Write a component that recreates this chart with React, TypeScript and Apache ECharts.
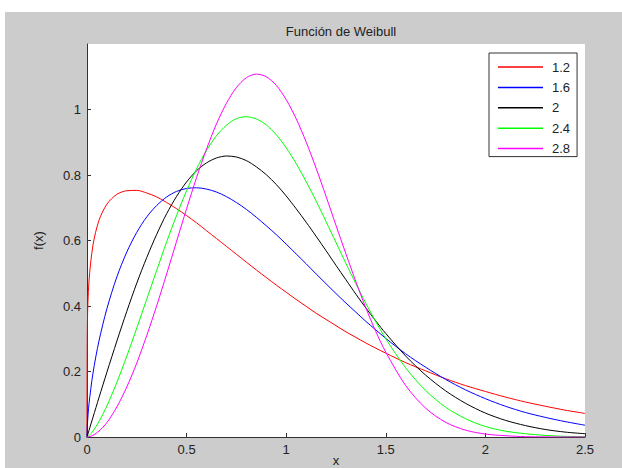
import React, { useEffect, useRef } from "react";
import * as echarts from "echarts";

const xs = [
  0, 0.002, 0.01, 0.03, 0.06, 0.1, 0.15,
  0.2, 0.25, 0.3, 0.35, 0.4, 0.45, 0.5, 0.55, 0.6, 0.65, 0.7, 0.75, 0.8, 0.85, 0.9, 0.95,
  1.0, 1.05, 1.1, 1.15, 1.2, 1.25, 1.3, 1.35, 1.4, 1.45, 1.5,
  1.6, 1.7, 1.8, 1.9, 2.0, 2.1, 2.2, 2.3, 2.4, 2.5,
];

const shapeLabels = ["1.2", "1.6", "2", "2.4", "2.8"];

const k12 = [
  0, 0.346, 0.476, 0.586, 0.661, 0.711, 0.741,
  0.752, 0.753, 0.745, 0.733, 0.716, 0.697, 0.676, 0.654, 0.630, 0.606, 0.582, 0.558, 0.534, 0.510, 0.487, 0.464,
  0.442, 0.420, 0.399, 0.378, 0.359, 0.340, 0.321, 0.304, 0.287, 0.271, 0.256,
  0.227, 0.202, 0.178, 0.157, 0.139, 0.122, 0.107, 0.094, 0.082, 0.072,
];
const k16 = [
  0, 0.038, 0.101, 0.195, 0.293, 0.392, 0.489,
  0.565, 0.625, 0.672, 0.707, 0.733, 0.750, 0.759, 0.761, 0.757, 0.748, 0.734, 0.716, 0.695, 0.671, 0.645, 0.618,
  0.589, 0.559, 0.529, 0.498, 0.468, 0.438, 0.409, 0.381, 0.353, 0.327, 0.301,
  0.254, 0.213, 0.176, 0.144, 0.117, 0.094, 0.075, 0.060, 0.047, 0.036,
];
const k20 = [
  0, 0.004, 0.020, 0.060, 0.120, 0.198, 0.293,
  0.384, 0.470, 0.548, 0.619, 0.682, 0.735, 0.779, 0.813, 0.837, 0.852, 0.858, 0.855, 0.844, 0.825, 0.801, 0.771,
  0.736, 0.697, 0.656, 0.613, 0.569, 0.524, 0.480, 0.436, 0.394, 0.354, 0.316,
  0.247, 0.189, 0.141, 0.103, 0.073, 0.051, 0.035, 0.023, 0.015, 0.010,
];
const k24 = [
  0, 0.0004, 0.004, 0.018, 0.047, 0.095, 0.167,
  0.247, 0.333, 0.421, 0.509, 0.596, 0.677, 0.752, 0.819, 0.875, 0.920, 0.952, 0.972, 0.978, 0.971, 0.953, 0.923,
  0.883, 0.835, 0.780, 0.721, 0.658, 0.594, 0.530, 0.468, 0.408, 0.352, 0.300,
  0.211, 0.142, 0.091, 0.056, 0.032, 0.018, 0.010, 0.005, 0.002, 0.001,
];
const k28 = [
  0, 0, 0.0007, 0.005, 0.018, 0.044, 0.092,
  0.153, 0.226, 0.310, 0.401, 0.498, 0.598, 0.697, 0.792, 0.879, 0.956, 1.019, 1.067, 1.097, 1.108, 1.100, 1.074,
  1.030, 0.972, 0.901, 0.821, 0.735, 0.646, 0.559, 0.474, 0.394, 0.322, 0.259,
  0.157, 0.088, 0.045, 0.021, 0.009, 0.004, 0.001, 0.0004, 0.0001, 0,
];

const seriesValues = [k12, k16, k20, k24, k28];
const colors = ["#ff0000", "#0000ff", "#000000", "#00ff00", "#ff00ff"];

const xTicks = [0, 0.5, 1, 1.5, 2, 2.5];
const yTicks = [0, 0.2, 0.4, 0.6, 0.8, 1];

const FONT = "Liberation Sans, Arial, sans-serif";

export default function App() {
  const ref = useRef<HTMLDivElement>(null);
  useEffect(() => {
    if (!ref.current) return;
    const chart = echarts.init(ref.current, undefined, { renderer: "svg" });
    const axisText = { color: "#222", fontFamily: FONT, fontSize: 13 };
    chart.setOption({
      animation: false,
      backgroundColor: "#ffffff",
      graphic: [
        {
          type: "rect",
          z: -10,
          silent: true,
          shape: { x: 5, y: 12, width: 617, height: 456 },
          style: { fill: "#cccccc" },
        },
      ],
      title: {
        text: "Función de Weibull",
        left: 336,
        textAlign: "center",
        top: 20,
        textStyle: { color: "#222", fontFamily: FONT, fontSize: 13, fontWeight: "normal" },
      },
      legend: {
        show: true,
        orient: "vertical",
        left: 489,
        top: 53,
        icon: "rect",
        itemWidth: 45,
        itemHeight: 1.5,
        itemGap: 6.4,
        padding: [7, 7, 1, 9],
        backgroundColor: "#ffffff",
        borderColor: "#333",
        borderWidth: 1,
        selectedMode: false,
        textStyle: { color: "#222", fontFamily: FONT, fontSize: 13, lineHeight: 14, padding: [0, 0, 0, 4] },
        data: shapeLabels,
      },
      grid: {
        left: 87,
        right: 37,
        top: 44,
        bottom: 31,
        show: true,
        backgroundColor: "#ffffff",
        borderWidth: 0,
        outerBoundsMode: "none",
        containLabel: false,
      },
      xAxis: {
        type: "value",
        min: 0,
        max: 2.5,
        interval: 0.5,
        name: "x",
        nameLocation: "middle",
        nameGap: 17,
        nameMoveOverlap: false,
        nameTextStyle: axisText,
        axisLine: { show: true, lineStyle: { color: "#333", width: 1 } },
        axisTick: { show: true, inside: true, length: 4, lineStyle: { color: "#333" }, customValues: xTicks },
        axisLabel: { ...axisText, margin: 6, customValues: xTicks, formatter: (v: number) => String(v) },
        splitLine: { show: false },
      },
      yAxis: {
        type: "value",
        min: 0,
        max: 1.2,
        interval: 0.2,
        name: "f(x)",
        nameLocation: "middle",
        nameGap: 42,
        nameRotate: 90,
        nameMoveOverlap: false,
        nameTextStyle: axisText,
        axisLine: { show: true, lineStyle: { color: "#333", width: 1 } },
        axisTick: { show: true, inside: true, length: 4, lineStyle: { color: "#333" }, customValues: yTicks },
        axisLabel: { ...axisText, margin: 6, customValues: yTicks, formatter: (v: number) => String(Math.round(v * 10) / 10) },
        splitLine: { show: false },
      },
      series: seriesValues.map((vals, i) => ({
        name: shapeLabels[i],
        type: "line",
        symbol: "none",
        showSymbol: false,
        smooth: 0.3,
        color: colors[i],
        lineStyle: { color: colors[i], width: 1 },
        data: xs.map((x, j) => [x, vals[j]]),
      })),
    });
    return () => chart.dispose();
  }, []);
  return (
    <div
      ref={ref}
      style={{ position: "fixed", left: 0, top: 0, width: 622, height: 468 }}
    />
  );
}
